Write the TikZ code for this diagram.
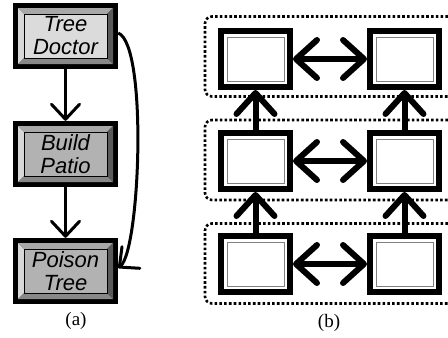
\documentclass[tikz,border=0pt]{standalone}
\usepackage{fontspec}
\setmainfont{Liberation Serif}
\newfontfamily\facefont{Liberation Sans}
\usetikzlibrary{arrows.meta}

\definecolor{bevlight}{HTML}{D8D8D8}
\definecolor{bevtop}{HTML}{A8A8A8}
\definecolor{bevdark}{HTML}{5A5A5A}
\definecolor{bevbot}{HTML}{888888}

\tikzstyle{face} = [fill=black, minimum width=105pt, minimum height=66pt, inner sep=0pt,
    align=center, font=\facefont\itshape\fontsize{22}{23}\selectfont,
    path picture={
      \path (path picture bounding box.north west) ++(5pt,-5pt) coordinate (o1) ++(6pt,-6pt) coordinate (i1);
      \path (path picture bounding box.south east) ++(-5pt,5pt) coordinate (o2) ++(-6pt,6pt) coordinate (i2);
      \fill[bevtop] (o1) -- (o1 -| o2) -- (i1 -| i2) -- (i1) -- cycle;
      \fill[bevlight] (o1) -- (o1 |- o2) -- (i1 |- i2) -- (i1) -- cycle;
      \fill[bevdark] (o1 -| o2) -- (o2) -- (i2) -- (i1 -| i2) -- cycle;
      \fill[bevbot] (o1 |- o2) -- (o2) -- (i2) -- (i1 |- i2) -- cycle;
      \filldraw[fill=#1, draw=black, line width=0.6pt] (i1) rectangle (i2);
    }]
\tikzstyle{cell} = [draw, line width=6pt, minimum width=69pt, minimum height=56pt, inner sep=0pt,
    path picture={
      \draw[gray, line width=0.8pt] ([shift={(6pt,-6pt)}]path picture bounding box.north west)
        rectangle ([shift={(-6pt,6pt)}]path picture bounding box.south east);
    }]
\tikzstyle{group} = [draw, line width=2.6pt, dash pattern=on 2.6pt off 2.2pt, rounded corners=7pt,
    minimum width=250pt, minimum height=80pt]
\tikzstyle{flow} = [line width=3pt, -{Straight Barb[length=15pt, width=28pt, line width=3pt, round]}]
\tikzstyle{link} = [line width=6pt, {Straight Barb[length=21pt, width=38pt, line width=6pt, round]}-{Straight Barb[length=21pt, width=38pt, line width=6pt, round]}]
\tikzstyle{up} = [line width=6pt, -{Straight Barb[length=21pt, width=38pt, line width=6pt, round]}]
\tikzstyle{caption} = [font=\fontsize{19}{21}\selectfont]

\begin{document}
\begin{tikzpicture}[x=1pt, y=-1pt]
\useasboundingbox (0,0) rectangle (448,338);

\node[face=black!14] (doctor) at (65.5,36) {Tree\\Doctor};
\node[face=black!30] (patio) at (65.5,154) {Build\\Patio};
\node[face=black!30] (poison) at (65.5,271) {Poison\\Tree};
\draw[flow] (doctor) -- (patio);
\draw[flow] (patio) -- (poison);
\draw[flow] ([yshift=3pt]doctor.east) .. controls (148,45) and (140,250) .. ([yshift=3pt]poison.east);
\node[caption] (capa) at (76,321) {(a)};

\node[group] (rowtop) at (330,56.5) {};
\node[group] (rowmid) at (330,160) {};
\node[group] (rowbot) at (330,263.5) {};
\node[cell] (tl) at (255.5,59) {};
\node[cell] (tr) at (404.5,59) {};
\node[cell] (ml) at (255.5,161) {};
\node[cell] (mr) at (404.5,161) {};
\node[cell] (bl) at (255.5,264) {};
\node[cell] (br) at (404.5,264) {};
\draw[link] (tl) -- (tr);
\draw[link] (ml) -- (mr);
\draw[link] (bl) -- (br);
\draw[up] (ml) -- (tl);
\draw[up] (mr) -- (tr);
\draw[up] (bl) -- (ml);
\draw[up] (br) -- (mr);
\node[caption] (capb) at (329,323) {(b)};
\end{tikzpicture}
\end{document}
